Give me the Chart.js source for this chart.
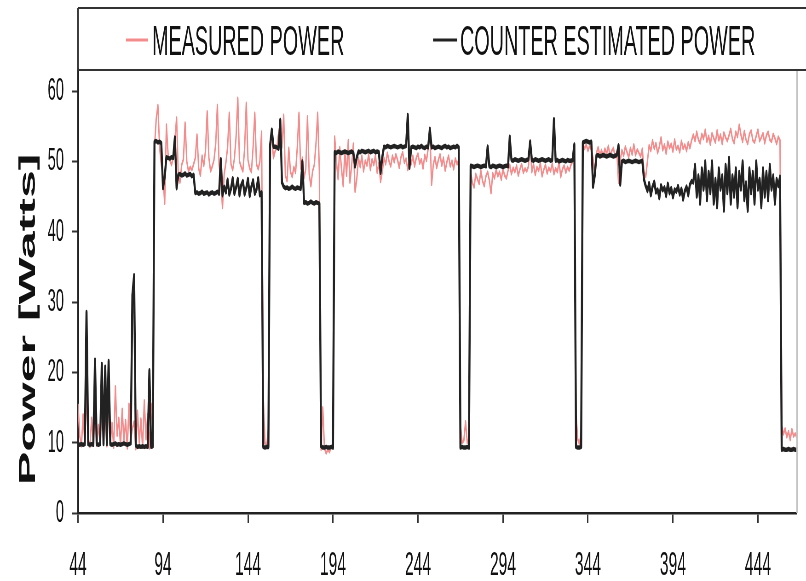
<!DOCTYPE html>
<html>
<head>
<meta charset="utf-8">
<title>Measured vs counter estimated power</title>
<script src="https://cdn.jsdelivr.net/npm/chart.js@4.4.1/dist/chart.umd.min.js"></script>
<style>
  html, body { margin: 0; padding: 0; background: #fff; overflow: hidden; }
</style>
</head>
<body>
<!-- drawn on a wide canvas and squeezed to 806px, which gives the tall narrow lettering -->
<canvas id="powerChart" width="1752" height="581" style="display:block;width:806px;height:581px"></canvas>
<script>
// one sample per second, first sample at t = 44 s
const FIRST_SECOND = 44;

// power measured at the wall [W]
const measured = [
  15.5, 11.0, 9.5, 14.0, 10.0, 17.0, 10.5, 9.4, 13.5, 10.0,   // 44
  15.0, 9.6, 12.5, 10.0, 16.5, 11.0, 14.0, 9.5, 17.5, 10.2,   // 54
  12.8, 9.3, 18.0, 11.0, 13.5, 9.6, 14.8, 10.1, 13.2, 9.2,    // 64
  15.5, 10.4, 12.0, 13.0, 9.1, 14.5, 10.0, 13.4, 9.3, 16.0,   // 74
  10.5, 14.0, 9.2, 15.5, 12.0, 52.0, 56.0, 58.0, 52.0, 49.5,  // 84
  48.0, 44.0, 55.2, 51.0, 50.2, 49.5, 50.5, 53.0, 56.2, 48.1, // 94
  47.0, 49.5, 50.3, 55.5, 50.0, 48.6, 49.2, 48.8, 49.6, 50.5, // 104
  53.8, 49.0, 48.0, 50.8, 49.4, 51.5, 57.1, 50.5, 48.6, 49.3, // 114
  50.2, 52.5, 58.0, 49.5, 47.5, 43.4, 48.2, 49.8, 52.0, 56.9, // 124
  49.6, 48.8, 50.4, 53.5, 59.0, 50.0, 49.2, 48.6, 51.8, 58.3, // 134
  50.2, 49.0, 48.5, 52.0, 56.9, 49.6, 48.9, 50.0, 54.2, 16.5, // 144
  10.0, 9.5, 12.0, 52.0, 53.5, 50.5, 51.5, 52.0, 54.0, 55.5,  // 154
  52.0, 56.6, 48.0, 47.2, 51.9, 48.5, 47.8, 49.2, 48.4, 52.0, // 164
  56.9, 49.0, 50.5, 47.6, 48.9, 56.4, 48.2, 46.5, 48.6, 49.5, // 174
  52.5, 56.9, 48.5, 9.0, 15.0, 9.2, 8.5, 9.0, 8.7, 9.5,       // 184
  9.5, 53.5, 50.0, 47.5, 52.0, 49.0, 46.5, 51.5, 48.0, 53.0,  // 194
  47.0, 49.5, 52.5, 45.7, 47.5, 50.5, 49.2, 50.8, 48.6, 50.1, // 204
  49.4, 51.0, 48.8, 50.3, 49.5, 50.9, 48.4, 49.8, 47.1, 48.5, // 214
  50.5, 49.6, 51.2, 50.0, 49.3, 50.8, 49.9, 51.0, 50.2, 49.1, // 224
  50.6, 51.3, 49.8, 50.4, 48.8, 50.2, 49.6, 50.8, 49.3, 50.5, // 234
  51.1, 49.7, 50.3, 49.0, 50.9, 50.1, 51.8, 54.8, 46.7, 49.5, // 244
  50.6, 49.1, 50.2, 51.0, 49.4, 50.5, 48.7, 49.9, 50.8, 49.3, // 254
  50.1, 48.9, 50.4, 49.6, 50.2, 12.5, 10.0, 10.3, 13.0, 10.0, // 264
  10.5, 48.5, 47.0, 46.3, 48.2, 47.5, 46.8, 48.7, 47.2, 46.5, // 274
  47.9, 48.5, 47.3, 45.5, 48.3, 47.6, 48.8, 47.9, 48.5, 47.4, // 284
  48.9, 48.0, 47.6, 48.7, 49.5, 48.2, 49.1, 48.5, 49.4, 48.0, // 294
  48.9, 49.6, 48.4, 49.0, 48.6, 49.3, 53.0, 48.5, 49.6, 48.1, // 304
  49.2, 48.7, 49.8, 47.9, 48.8, 49.5, 48.3, 49.1, 48.6, 49.7, // 314
  48.2, 49.0, 48.5, 49.9, 47.8, 48.9, 49.4, 48.4, 49.2, 48.7, // 324
  49.5, 50.0, 50.5, 14.0, 10.5, 9.8, 11.5, 52.5, 51.8, 52.4,  // 334
  51.5, 52.2, 51.7, 50.5, 48.5, 51.2, 52.0, 50.9, 51.6, 50.7, // 344
  51.8, 51.1, 52.2, 50.8, 51.5, 51.9, 50.6, 51.4, 47.0, 50.2, // 354
  51.6, 50.8, 52.1, 51.3, 50.6, 51.9, 51.0, 52.4, 50.9, 51.7, // 364
  51.2, 50.7, 51.8, 48.5, 47.8, 50.0, 52.3, 51.5, 53.0, 51.8, // 374
  52.6, 51.2, 52.1, 53.4, 51.6, 52.4, 51.1, 52.8, 51.9, 52.5, // 384
  51.4, 53.1, 51.7, 52.2, 51.3, 52.9, 51.8, 52.4, 51.5, 52.7, // 394
  51.9, 53.0, 53.8, 52.9, 54.2, 53.1, 52.6, 53.9, 53.2, 54.5, // 404
  52.8, 53.6, 52.4, 54.0, 53.3, 52.7, 54.4, 53.0, 53.8, 52.5, // 414
  54.1, 53.4, 52.9, 53.7, 54.6, 53.2, 52.6, 54.2, 53.5, 55.2, // 424
  53.8, 52.8, 54.3, 53.1, 52.5, 53.9, 54.4, 53.0, 52.7, 53.6, // 434
  54.5, 52.9, 53.4, 54.0, 52.6, 53.7, 54.2, 53.1, 52.8, 53.9, // 444
  53.3, 52.5, 53.5, 53.0, 12.5, 11.2, 12.0, 10.8, 11.6, 10.4, // 454
  11.9, 10.9, 11.3, 10.6                                      // 464
];

// power estimated from the performance counters [W]
const estimated = [
  9.8, 9.7, 9.8, 9.7, 9.8, 28.6, 9.8, 9.7, 9.8, 9.7,          // 44
  21.8, 9.8, 9.7, 9.8, 21.2, 9.8, 20.8, 9.8, 21.6, 9.8,       // 54
  9.7, 9.8, 9.9, 9.7, 9.8, 9.7, 9.8, 9.9, 9.8, 9.7,           // 64
  9.8, 9.9, 31.0, 33.8, 9.6, 9.4, 9.5, 9.4, 9.5, 9.4,         // 74
  9.5, 9.4, 20.3, 9.4, 9.5, 52.8, 52.9, 52.7, 52.8, 52.6,     // 84
  46.2, 47.8, 50.6, 50.5, 50.4, 50.6, 50.5, 53.4, 46.2, 48.1, // 94
  48.2, 48.0, 48.1, 48.3, 48.0, 48.1, 48.2, 47.9, 48.1, 45.5, // 104
  45.6, 45.4, 45.5, 45.7, 45.4, 45.5, 45.6, 45.3, 45.5, 45.6, // 114
  45.4, 45.5, 45.7, 45.4, 50.3, 45.2, 46.4, 45.6, 47.4, 45.3, // 124
  46.1, 47.6, 45.4, 46.3, 47.5, 45.2, 46.6, 47.2, 45.3, 46.2, // 134
  47.5, 45.1, 46.4, 47.3, 45.4, 46.0, 47.6, 45.2, 45.6, 9.4,  // 144
  9.3, 9.4, 9.4, 52.3, 54.5, 52.1, 52.1, 52.0, 51.8, 55.9,    // 154
  47.0, 46.4, 46.2, 46.3, 46.1, 46.2, 46.4, 46.2, 46.1, 46.3, // 164
  46.2, 46.1, 50.0, 44.1, 44.2, 44.0, 44.1, 44.3, 44.1, 44.0, // 174
  44.2, 44.1, 44.0, 9.5, 9.3, 9.3, 9.4, 9.3, 9.3, 9.4,        // 184
  9.3, 51.3, 51.2, 51.4, 51.3, 51.2, 51.3, 51.4, 51.3, 51.2,  // 194
  51.3, 51.4, 51.2, 49.3, 50.6, 51.4, 51.3, 51.5, 51.4, 51.3, // 204
  51.4, 51.5, 51.3, 51.4, 51.5, 51.3, 51.4, 51.3, 48.4, 50.6, // 214
  52.1, 52.0, 52.2, 52.1, 52.0, 52.1, 52.2, 52.1, 52.0, 52.1, // 224
  52.2, 52.0, 52.1, 52.2, 56.6, 49.1, 52.0, 52.1, 52.0, 51.9, // 234
  52.1, 52.0, 52.2, 52.0, 51.9, 52.1, 52.0, 54.6, 52.0, 52.1, // 244
  51.9, 52.0, 52.1, 52.0, 51.9, 52.1, 52.2, 52.0, 52.1, 51.9, // 254
  52.0, 52.1, 52.0, 52.2, 52.0, 9.3, 9.4, 9.3, 9.3, 9.4,      // 264
  9.3, 49.4, 49.3, 49.2, 49.3, 49.4, 49.3, 49.2, 49.3, 49.4,  // 274
  49.3, 52.1, 49.3, 49.2, 49.4, 49.3, 49.2, 49.3, 49.4, 49.3, // 284
  49.2, 49.3, 49.4, 49.3, 53.5, 50.2, 50.1, 50.3, 50.2, 50.1, // 294
  50.2, 50.3, 50.2, 50.1, 50.2, 50.3, 52.8, 50.2, 50.1, 50.3, // 304
  50.2, 50.1, 50.2, 50.3, 50.2, 50.1, 50.2, 50.3, 50.1, 50.2, // 314
  56.0, 50.1, 50.2, 50.0, 50.1, 50.2, 50.1, 50.0, 50.2, 50.1, // 324
  50.1, 50.2, 52.4, 9.4, 9.3, 9.3, 9.4, 52.7, 52.8, 52.9,     // 334
  52.8, 52.7, 52.8, 46.4, 48.0, 50.8, 50.9, 50.7, 50.8, 50.9, // 344
  50.8, 50.7, 50.8, 50.9, 50.8, 50.7, 50.8, 50.9, 52.3, 46.7, // 354
  50.0, 50.1, 49.9, 50.0, 50.1, 50.0, 49.9, 50.0, 50.1, 50.0, // 364
  49.9, 50.0, 50.1, 47.4, 46.5, 45.8, 46.9, 45.2, 46.4, 47.1, // 374
  45.6, 46.0, 44.8, 46.6, 45.9, 46.3, 45.1, 46.8, 45.5, 46.2, // 384
  44.9, 46.0, 45.7, 46.5, 45.3, 46.1, 44.6, 45.8, 46.4, 45.2, // 394
  46.7, 47.2, 47.0, 49.5, 45.0, 48.0, 44.0, 49.0, 46.0, 50.0, // 404
  44.5, 48.5, 45.5, 50.0, 44.0, 47.5, 43.5, 49.0, 46.0, 48.0, // 414
  43.0, 49.5, 45.5, 50.5, 44.0, 48.0, 45.0, 49.0, 43.5, 48.5, // 424
  46.0, 50.0, 44.5, 47.0, 43.0, 49.0, 45.5, 48.5, 44.0, 50.0, // 434
  46.0, 47.5, 43.5, 49.0, 45.0, 48.5, 44.5, 49.5, 46.0, 48.0, // 444
  44.0, 47.5, 46.5, 47.8, 9.0, 9.1, 9.0, 9.0, 9.1, 9.0,       // 454
  9.0, 9.1, 9.0, 9.0                                          // 464
];

const seriesLabels = ['MEASURED POWER', 'COUNTER ESTIMATED POWER'];
const xTicks = [44, 94, 144, 194, 244, 294, 344, 394, 444];
const yTicks = [0, 10, 20, 30, 40, 50, 60];
const X_MIN = 44, X_MAX = 467;
const Y_MIN = 0, Y_MAX = 63;

const seconds = measured.map((_, i) => FIRST_SECOND + i);
const toPoints = vals => vals.map((v, i) => ({ x: seconds[i], y: v }));

// horizontal squeeze: canvas pixels per screen pixel
const SX = 1752 / 806;
const FONT = '"Liberation Sans", Arial, sans-serif';
const RED = '#f38c8c';
const BLACK = '#222222';

// boxed legend above the plot, plus the grey right edge of the plot
const legendBox = {
    id: 'legendBox',
    afterDraw(chart) {
        const { ctx, chartArea, width } = chart;
        const boxTop = 8;
        ctx.save();

        ctx.strokeStyle = '#c4c4c4';
        ctx.lineWidth = 3.5;
        ctx.beginPath();
        ctx.moveTo(chartArea.right, chartArea.top);
        ctx.lineTo(chartArea.right, chartArea.bottom);
        ctx.stroke();

        ctx.strokeStyle = '#333';
        ctx.lineWidth = 2;
        ctx.beginPath();
        ctx.moveTo(chartArea.left, boxTop);
        ctx.lineTo(width, boxTop);
        ctx.moveTo(chartArea.left, chartArea.top);
        ctx.lineTo(width, chartArea.top);
        ctx.stroke();
        ctx.lineWidth = 4;
        ctx.beginPath();
        ctx.moveTo(chartArea.left, boxTop);
        ctx.lineTo(chartArea.left, chartArea.top);
        ctx.stroke();

        // dash + label for each series (screen x positions)
        const slots = [{ from: 126, to: 148, text: 152 }, { from: 433, to: 457, text: 460 }];
        ctx.font = '43px ' + FONT;
        ctx.textBaseline = 'alphabetic';
        ctx.fillStyle = '#111';
        chart.data.datasets.forEach((ds, i) => {
            const s = slots[i];
            ctx.strokeStyle = ds.borderColor;
            ctx.lineWidth = 3;
            ctx.beginPath();
            ctx.moveTo(s.from * SX, 40);
            ctx.lineTo(s.to * SX, 40);
            ctx.stroke();
            ctx.fillText(ds.label, s.text * SX, 55);
        });
        ctx.restore();
    }
};

new Chart(document.getElementById('powerChart'), {
    type: 'line',
    data: {
        datasets: [{
            label: seriesLabels[0],
            data: toPoints(measured),
            borderColor: RED,
            borderWidth: 3,
            order: 1
        }, {
            label: seriesLabels[1],
            data: toPoints(estimated),
            borderColor: BLACK,
            borderWidth: 4.5,
            order: 0
        }]
    },
    options: {
        responsive: false,
        animation: false,
        events: [],
        layout: { padding: { top: 70, right: 1752 - 797 * SX, bottom: 0, left: 0 } },
        elements: {
            point: { radius: 0 },
            line: { tension: 0, borderJoinStyle: 'round', fill: false }
        },
        plugins: {
            legend: { display: false },
            tooltip: { enabled: false }
        },
        scales: {
            x: {
                type: 'linear',
                min: X_MIN,
                max: X_MAX,
                afterBuildTicks: s => { s.ticks = xTicks.map(v => ({ value: v })); },
                afterFit: s => { s.height = 68; },
                border: { display: true, color: '#222', width: 2.5 },
                grid: { drawOnChartArea: false, drawTicks: true, tickLength: 10, tickColor: '#333', tickWidth: 3 },
                ticks: { font: { family: FONT, size: 34 }, color: '#111', padding: 22, maxRotation: 0, autoSkip: false }
            },
            y: {
                type: 'linear',
                min: Y_MIN,
                max: Y_MAX,
                afterBuildTicks: s => { s.ticks = yTicks.map(v => ({ value: v })); },
                afterFit: s => { s.width = 78 * SX; },
                border: { display: true, color: '#222', width: 4 },
                grid: { drawOnChartArea: false, drawTicks: true, tickLength: 13, tickColor: '#333', tickWidth: 2 },
                ticks: { font: { family: FONT, size: 32 }, color: '#111', padding: 17.5 },
                title: {
                    display: true,
                    text: 'Power [Watts]    ',
                    font: { family: FONT, size: 50, weight: 'bold' },
                    color: '#111',
                    padding: { top: 32, bottom: 0 }
                }
            }
        }
    },
    plugins: [legendBox]
});
</script>
</body>
</html>
